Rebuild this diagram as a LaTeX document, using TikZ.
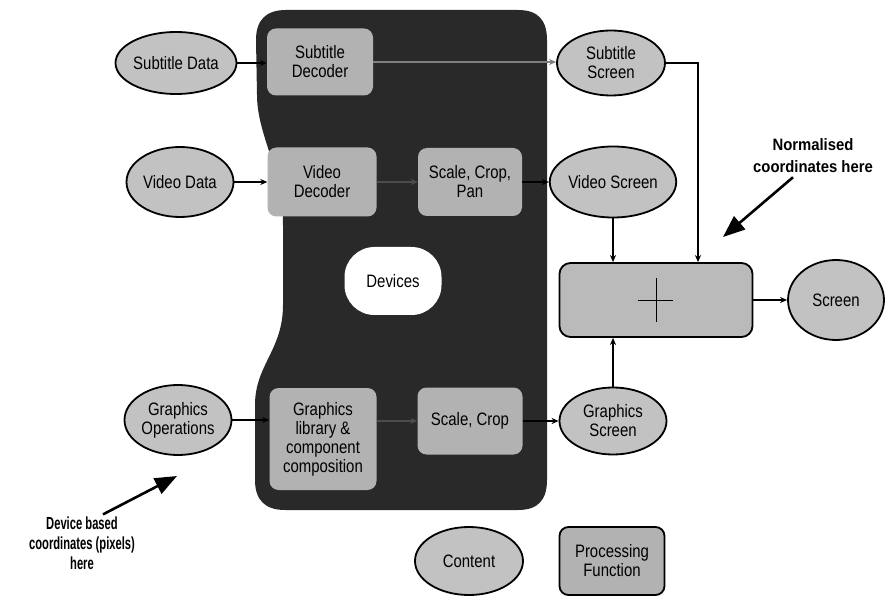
\documentclass[tikz,border=0pt]{standalone}
\usepackage{fontspec}
\setmainfont[FakeStretch=0.83]{Liberation Sans}
\newfontfamily\annRfont[FakeStretch=0.9]{Liberation Sans}
\newfontfamily\annLfont[FakeStretch=0.64]{Liberation Sans}
\usetikzlibrary{shapes.geometric,arrows.meta}
\definecolor{ellfill}{gray}{0.76}
\definecolor{boxfill}{gray}{0.70}
\definecolor{devfill}{gray}{0.16}
\definecolor{compfill}{gray}{0.73}
\begin{document}
\begin{tikzpicture}[x=1pt,y=-1pt,
  every node/.style={font=\fontsize{18}{19}\selectfont, align=center, inner sep=0pt},
  contentn/.style={ellipse, draw=black, line width=1.8pt, fill=ellfill},
  procn/.style={rectangle, rounded corners=9pt, fill=boxfill},
  procout/.style={rectangle, rounded corners=9pt, draw=black, line width=1.8pt, fill=boxfill},
  arr/.style={line width=1.2pt, -{Stealth[length=7pt,width=6pt]}},
  bigarr/.style={line width=2.6pt, -{Triangle[length=22pt,width=17pt]}},
  annR/.style={font=\fontsize{16.5}{22}\selectfont\annRfont\bfseries},
  annL/.style={font=\fontsize{17.5}{20}\selectfont\annLfont\bfseries}
]
\useasboundingbox (0,0) rectangle (887,596);
\fill[white] (0,0) rectangle (887,596);

% Devices region
\fill[devfill] (256,40) .. controls (256,20) and (266,10) .. (286,10)
  -- (518,10) .. controls (538,10) and (547,20) .. (547,40)
  -- (547,480) .. controls (547,500) and (538,510) .. (518,510)
  -- (285,510) .. controls (265,510) and (255,500) .. (255,480)
  -- (255,405) .. controls (255,365) and (283,350) .. (283,305)
  -- (283,225) .. controls (283,170) and (257,135) .. (257,95) -- cycle;

\node[fill=white, rounded corners=30pt, minimum width=97pt, minimum height=68pt] (dev) at (393,281) {Devices};

% content ellipses
\node[contentn, minimum width=108pt, minimum height=62pt] (subdata) at (176,63) {Subtitle Data};
\node[contentn, minimum width=107pt, minimum height=70pt] (viddata) at (180,182) {Video Data};
\node[contentn, minimum width=107pt, minimum height=70pt] (gops) at (178,420) {Graphics\\Operations};
\node[contentn, minimum width=108pt, minimum height=65pt] (subscr) at (611,63) {Subtitle\\Screen};
\node[contentn, minimum width=110pt, minimum height=71pt] (vscr) at (613,182) {Video Screen};
\node[contentn, minimum width=107pt, minimum height=67pt] (gscr) at (613,421) {Graphics\\Screen};
\node[contentn, minimum width=96pt, minimum height=80pt] (scr) at (836,300) {Screen};
\node[contentn, minimum width=108pt, minimum height=68pt] (content) at (469,561) {Content};

% processing boxes
\node[procn, minimum width=106pt, minimum height=67pt] (subdec) at (320,62) {Subtitle\\Decoder};
\node[procn, minimum width=109pt, minimum height=69pt] (vdec) at (322,182) {Video\\Decoder};
\node[procn, minimum width=104pt, minimum height=68pt] (scp) at (470,182) {Scale, Crop,\\Pan};
\node[procn, minimum width=107pt, minimum height=102pt] (glib) at (323,439) {Graphics\\library \&\\component\\composition};
\node[procn, minimum width=105pt, minimum height=67pt] (scrop) at (470,421) {Scale, Crop};
\node[procout, minimum width=105pt, minimum height=68pt] (procf) at (612,561) {Processing\\Function};
\node[procout, rounded corners=11pt, fill=compfill, minimum width=193pt, minimum height=74pt] (comp) at (656,300) {};
\draw[line width=0.8pt] ([xshift=-18pt]comp.center) -- ([xshift=17pt]comp.center);
\draw[line width=0.8pt] ([yshift=22pt]comp.center) -- ([yshift=-22pt]comp.center);

% connectors
\draw[arr] (subdata.east) -- (subdata.east -| subdec.west);
\draw[arr, gray] (subdec.east) -- (subdec.east -| subscr.west);
\draw[arr] (viddata) -- (vdec);
\draw[arr, gray!60!black] (vdec) -- (scp);
\draw[arr] (scp) -- (vscr);
\draw[arr] (gops.east) -- (gops.east -| glib.west);
\draw[arr, gray!60!black] (glib.east |- scrop) -- (scrop.west);
\draw[arr] (scrop) -- (gscr);
\draw[arr] (subscr.east) -| ([xshift=42pt]comp.north);
\draw[arr] (vscr.south) -- (vscr.south |- comp.north);
\draw[arr] (gscr.north) -- (gscr.north |- comp.south);
\draw[arr] (comp.east) -- (comp.east -| scr.west);

% annotations
\node[annR] (norm) at (813,156) {Normalised\\coordinates here};
\coordinate (normtip) at (723,237);
\draw[bigarr] ([xshift=-20pt,yshift=-4pt]norm.south) -- (normtip);
\node[annL] (devann) at (82,543) {Device based\\coordinates (pixels)\\here};
\coordinate (devtip) at (177,476);
\draw[bigarr] ([xshift=21pt,yshift=2pt]devann.north) -- (devtip);
\end{tikzpicture}
\end{document}
